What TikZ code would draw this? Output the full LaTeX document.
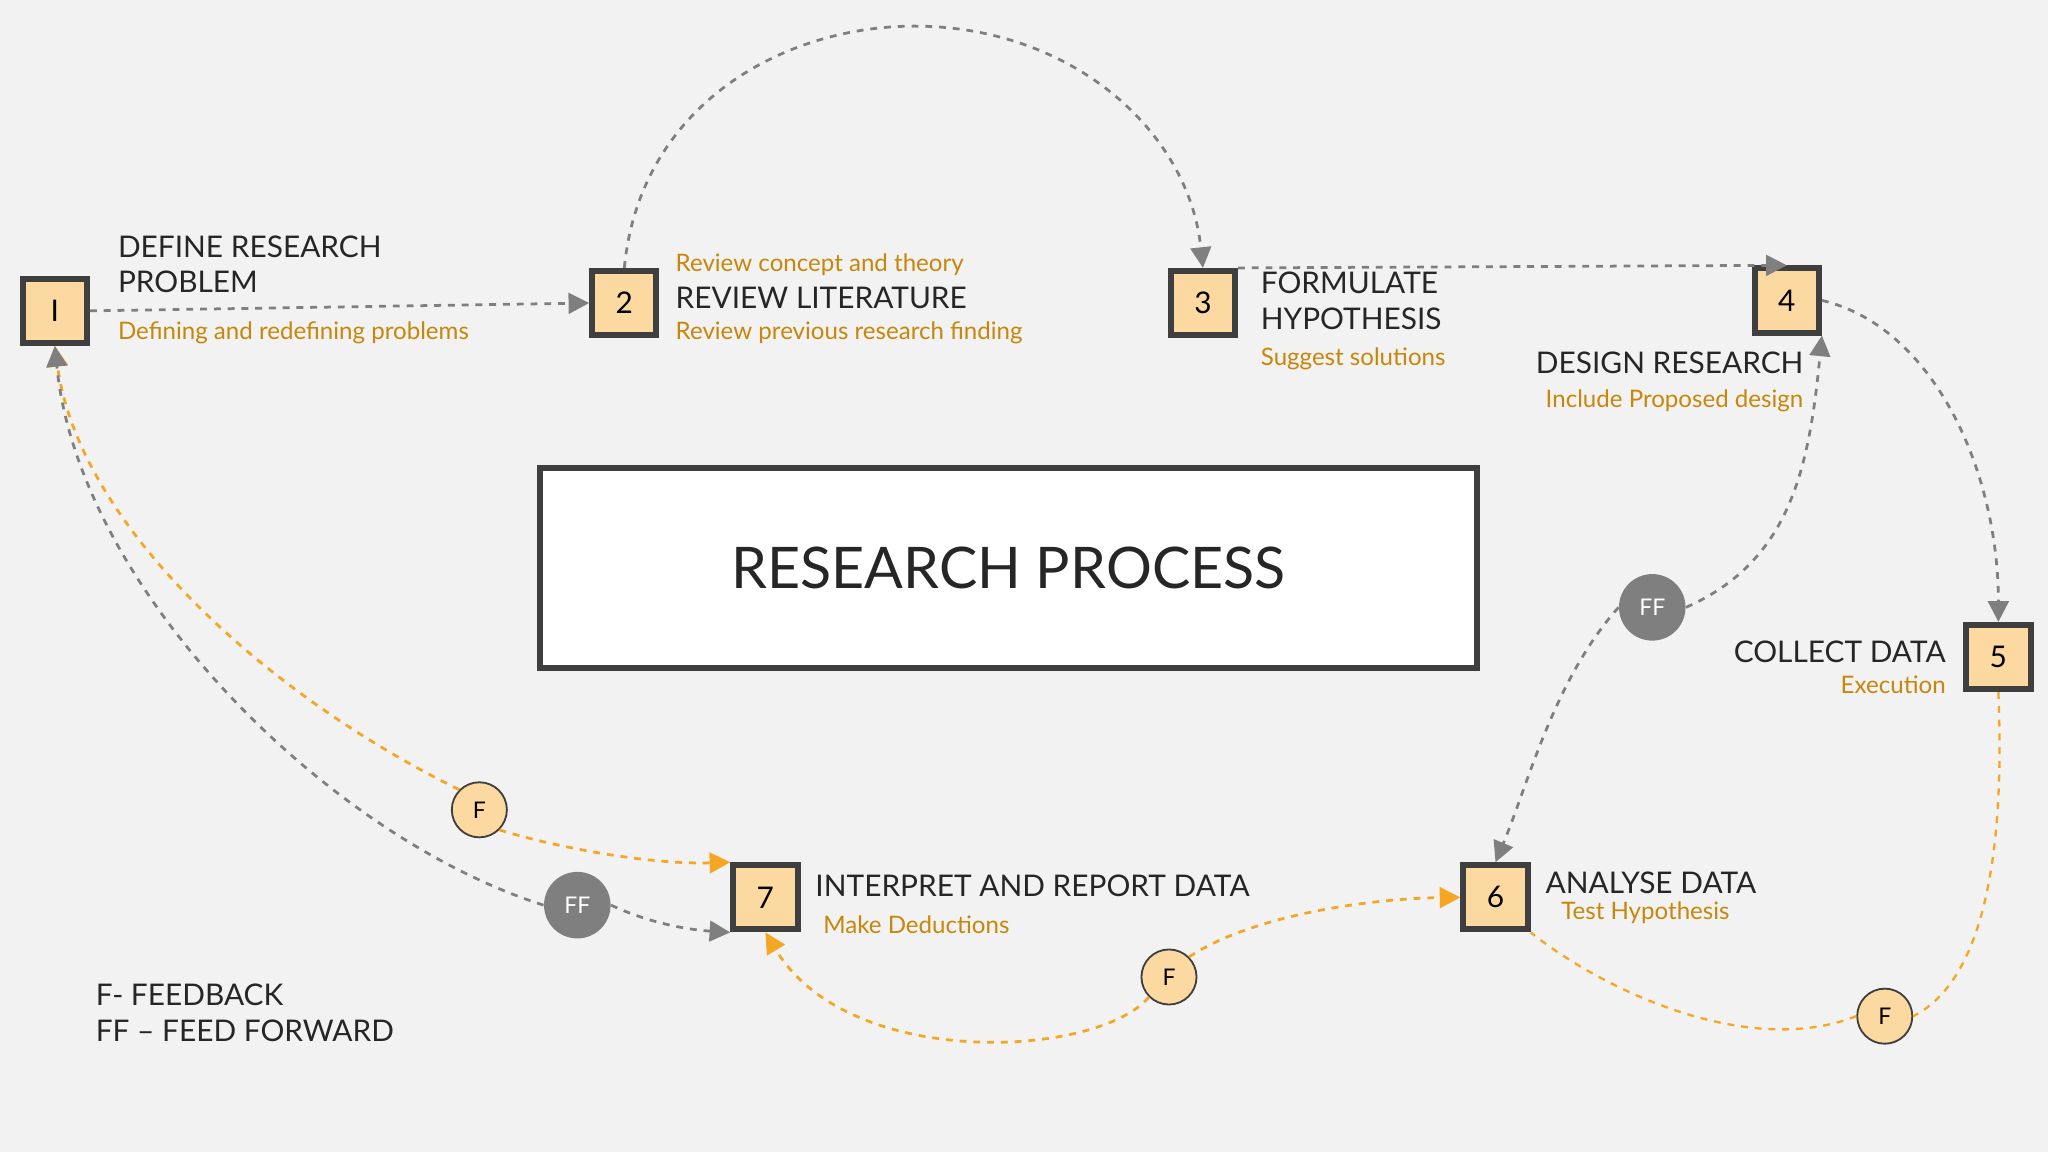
\documentclass[tikz,border=0pt]{standalone}
\usepackage{fontspec}
\setmainfont{Lato}
\usetikzlibrary{arrows.meta}
\definecolor{bg}{HTML}{F2F2F2}
\definecolor{boxfill}{HTML}{FCD9A0}
\definecolor{dk}{HTML}{3F3F3F}
\definecolor{otext}{HTML}{C8860A}
\definecolor{oline}{HTML}{F5A623}
\definecolor{gline}{HTML}{7F7F7F}
\tikzset{
 numbox/.style={draw=dk,line width=2.6pt,fill=boxfill,minimum size=50\pgfunit,inner sep=0pt,font=\fontsize{13}{13}\selectfont},
 fcirc/.style={circle,draw=dk,line width=0.8pt,fill=boxfill,minimum size=42\pgfunit,inner sep=0pt,font=\fontsize{10}{10}\selectfont},
 ffcirc/.style={circle,fill=gline,text=white,minimum size=52\pgfunit,inner sep=0pt,font=\fontsize{10}{10}\selectfont},
 btext/.style={inner sep=0pt,font=\fontsize{13}{15.5}\selectfont,text=black!85,align=left},
 otxt/.style={inner sep=0pt,font=\fontsize{10.5}{12}\selectfont,text=otext},
 garr/.style={draw=gline,dashed,line width=1.2pt,-{Triangle[length=9pt,width=9pt]}},
 gl/.style={draw=gline,dashed,line width=1.2pt},
 oarr/.style={draw=oline,dashed,line width=1.2pt,-{Triangle[length=9pt,width=9pt]}},
 ol/.style={draw=oline,dashed,line width=1pt},
}
\newcommand{\pgfunit}{pt}
\begin{document}
\begin{tikzpicture}[x=0.02cm,y=-0.02cm]
\fill[bg] (0,0) rectangle (1568,882);
\useasboundingbox (0,0) rectangle (1568,882);
\tikzset{numbox/.append style={minimum size=28pt},fcirc/.append style={minimum size=24pt},ffcirc/.append style={minimum size=29pt}}
% main box
\node[draw=dk,line width=2.5pt,fill=white,minimum width=720*0.567pt,minimum height=154*0.567pt,font=\fontsize{25}{25}\selectfont,text=black!85] (main) at (772,435) {RESEARCH PROCESS};
% boxes
\node[numbox] (b1) at (42,238) {I};
\node[numbox] (b2) at (478,232) {2};
\node[numbox] (b3) at (921,232) {3};
\node[numbox] (b4) at (1368,230) {4};
\node[numbox] (b5) at (1530,503) {5};
\node[numbox] (b6) at (1145,687) {6};
\node[numbox] (b7) at (586,687) {7};
% circles
\node[fcirc] (f1) at (367,620) {F};
\node[ffcirc] (ff1) at (442,693) {FF};
\node[fcirc] (f2) at (895,748) {F};
\node[ffcirc] (ff2) at (1265,465) {FF};
\node[fcirc] (f3) at (1443,778) {F};
% texts
\node[btext,anchor=north west] (t1) at (90,180) {DEFINE RESEARCH\\PROBLEM};
\node[otxt,anchor=west] (t1b) at (90,255) {Defining and redefining problems};
\node[otxt,anchor=west] (t2a) at (517,203) {Review concept and theory};
\node[btext,anchor=west] (t2) at (517,228) {REVIEW LITERATURE};
\node[otxt,anchor=west] (t2b) at (517,255) {Review previous research finding};
\node[btext,anchor=north west] (t3) at (965,208) {FORMULATE\\HYPOTHESIS};
\node[otxt,anchor=west] (t3b) at (965,275) {Suggest solutions};
\node[btext,anchor=east] (t4) at (1381,278) {DESIGN RESEARCH};
\node[otxt,anchor=east] (t4b) at (1381,307) {Include Proposed design};
\node[btext,anchor=east] (t5) at (1490,499) {COLLECT DATA};
\node[otxt,anchor=east] (t5b) at (1490,524) {Execution};
\node[btext,anchor=west] (t6) at (1183,676) {ANALYSE DATA};
\node[otxt,anchor=west] (t6b) at (1195,699) {Test Hypothesis};
\node[btext,anchor=west] (t7) at (624,678) {INTERPRET AND REPORT DATA};
\node[otxt,anchor=west] (t7b) at (630,708) {Make Deductions};
\node[btext,anchor=north west] (leg) at (73,753) {F- FEEDBACK\\FF -- FEED FORWARD};
% connectors
\draw[garr] (b1.east) -- (b2.west);
\draw[garr] (b2.north) .. controls (490,80) and (600,20) .. (700,20) .. controls (820,20) and (910,100) .. (b3.north);
\draw[garr] (b3.north east) -- (b4.north);
\draw[garr] (b4.east) .. controls (1480,250) and (1530,360) .. (b5.north);
\draw[ol] (b5.south) .. controls (1535,650) and (1520,750) .. (f3.east);
\draw[ol] (f3.west) .. controls (1340,810) and (1230,760) .. (b6.south east);
\draw[garr] (ff2.east) .. controls (1370,430) and (1385,360) .. (b4.south east);
\draw[garr] (ff2.west) .. controls (1190,520) and (1170,600) .. (b6.north);
\draw[oarr] (f2.north east) .. controls (960,700) and (1050,688) .. (b6.west);
\draw[oarr] (f2.south west) .. controls (840,810) and (650,820) .. (b7.south);
\draw[oarr] (f1.north west) .. controls (200,530) and (60,400) .. (b1.south);
\draw[oarr] (f1.south east) .. controls (430,650) and (500,662) .. (b7.north west);
\draw[garr] (ff1.west) .. controls (250,640) and (60,450) .. (b1.south);
\draw[garr] (ff1.east) .. controls (500,708) and (530,712) .. (b7.south west);
\end{tikzpicture}
\end{document}
